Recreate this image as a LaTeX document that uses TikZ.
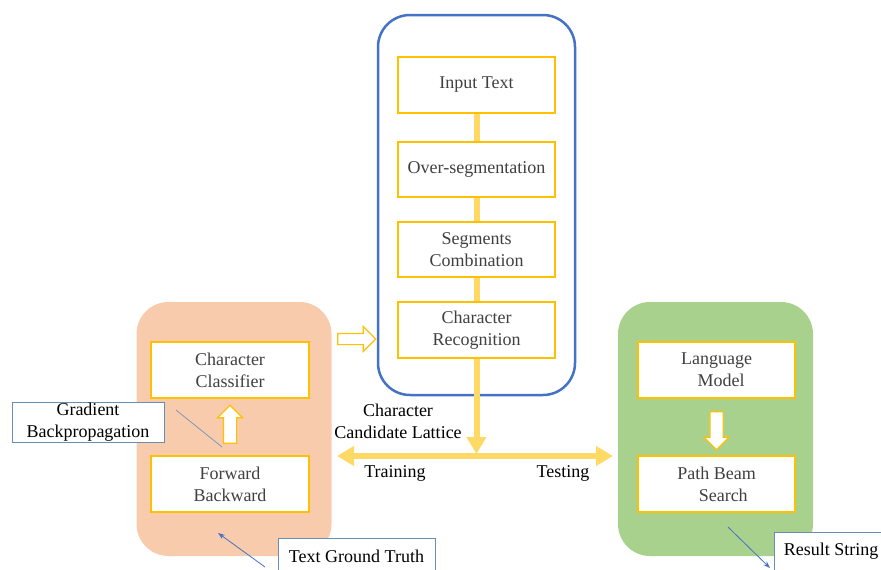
\documentclass[tikz,border=0pt]{standalone}
\usepackage{fontspec}
\setmainfont{Liberation Serif}
\usepackage{tikz}
\usetikzlibrary{arrows.meta}
\usetikzlibrary{shapes.arrows}
\definecolor{boxyellow}{HTML}{FFC000}
\definecolor{flowyellow}{HTML}{FFD966}
\definecolor{panelblue}{HTML}{4472C4}
\definecolor{panelorange}{HTML}{F8CBAD}
\definecolor{panelgreen}{HTML}{A9D18E}
\definecolor{noteblue}{HTML}{6A8DB5}
\definecolor{pointgrey}{HTML}{8497B0}
\definecolor{boxtext}{HTML}{404040}
\tikzset{>=stealth}
\tikzset{txt/.style={font=\fontsize{18}{22}\selectfont,align=center}}
\tikzset{stepbox/.style={txt,draw=boxyellow,fill=white,line width=1.2pt,text=boxtext,minimum width=157pt,minimum height=56pt,inner sep=0pt}}
\tikzset{panel/.style={rounded corners=32pt,minimum width=195pt,minimum height=254pt,inner sep=0pt}}
\tikzset{flow/.style={flowyellow,line width=6pt}}
\tikzset{flowtip/.style={-{Triangle[length=17pt,width=19pt]}}}
\tikzset{blockarr/.style={single arrow,draw=boxyellow,fill=white,line width=1.2pt,single arrow head extend=6pt,single arrow head indent=0pt,inner sep=6pt,minimum height=38pt}}
\tikzset{note/.style={txt,draw=noteblue,fill=white,line width=1pt,inner sep=0pt}}
\tikzset{pointer/.style={panelblue,line width=0.8pt,-{Stealth[length=7pt,width=5pt]}}}

\begin{document}
\begin{tikzpicture}[x=1pt,y=-1pt]
  \useasboundingbox (0,0) rectangle (881,570);
  \node[panel,draw=panelblue,line width=2.5pt,minimum width=197pt,minimum height=380pt] (pipeline) at (476.5,205) {};
  \node[panel,fill=panelorange] (training) at (234,429) {};
  \node[panel,fill=panelgreen] (testing) at (715.5,429) {};
  \node[stepbox] (input) at (476.5,85) {Input Text};
  \node[stepbox,minimum height=55pt] (overseg) at (476.5,169.5) {Over-segmentation};
  \node[stepbox,minimum height=55pt] (segcomb) at (476.5,249.5) {Segments\\Combination};
  \node[stepbox] (charrec) at (476.5,330) {Character\\Recognition};
  \node[stepbox,minimum width=158pt] (classifier) at (230,370) {Character\\Classifier};
  \node[stepbox,minimum width=158pt] (fwdbwd) at (230,484) {Forward\\Backward};
  \node[stepbox] (langmodel) at (716.5,370) {Language\\\ \ Model};
  \node[stepbox] (beamsearch) at (716.5,484) {Path Beam\\\ \ \ Search};
  \draw[flow] (input) -- (overseg);
  \draw[flow] (overseg) -- (segcomb);
  \draw[flow] (segcomb) -- (charrec);
  \coordinate (junction) at (476.5,454);
  \coordinate (trainend) at (337,456);
  \coordinate (testend) at (613,456);
  \draw[flow,flowtip] (charrec) -- (junction);
  \draw[flow,{Triangle[length=17pt,width=19pt]}-{Triangle[length=17pt,width=19pt]}] (trainend) -- (testend);
  \node[blockarr,shape border rotate=90] (backarrow) at (230,427.5) {};
  \node[blockarr,shape border rotate=270] (searcharrow) at (716.5,427.5) {};
  \node[blockarr,inner sep=5pt,single arrow head extend=7pt,minimum height=38pt] (feedarrow) at (354,339) {};
  \node[txt] (latticelabel) at (398,421) {Character\\Candidate Lattice};
  \node[txt] (traininglabel) at (395,473) {Training};
  \node[txt] (testinglabel) at (563,473) {Testing};
  \node[note,minimum width=152pt,minimum height=40pt] (gradient) at (88,422) {Gradient\\Backpropagation};
  \node[note,minimum width=157pt,minimum height=36pt] (groundtruth) at (356.5,556) {Text Ground Truth};
  \node[note,minimum width=114pt,minimum height=38pt] (result) at (831,551) {Result String};
  \coordinate (gradfrom) at (176,410);
  \coordinate (gradto) at (222,447);
  \draw[pointgrey,line width=0.8pt] (gradfrom) -- (gradto);
  \coordinate (truthfrom) at (265,567);
  \coordinate (truthto) at (218,533);
  \draw[pointer] (truthfrom) -- (truthto);
  \coordinate (resultfrom) at (728,527);
  \coordinate (resultto) at (770,568);
  \draw[pointer] (resultfrom) -- (resultto);
\end{tikzpicture}
\end{document}
